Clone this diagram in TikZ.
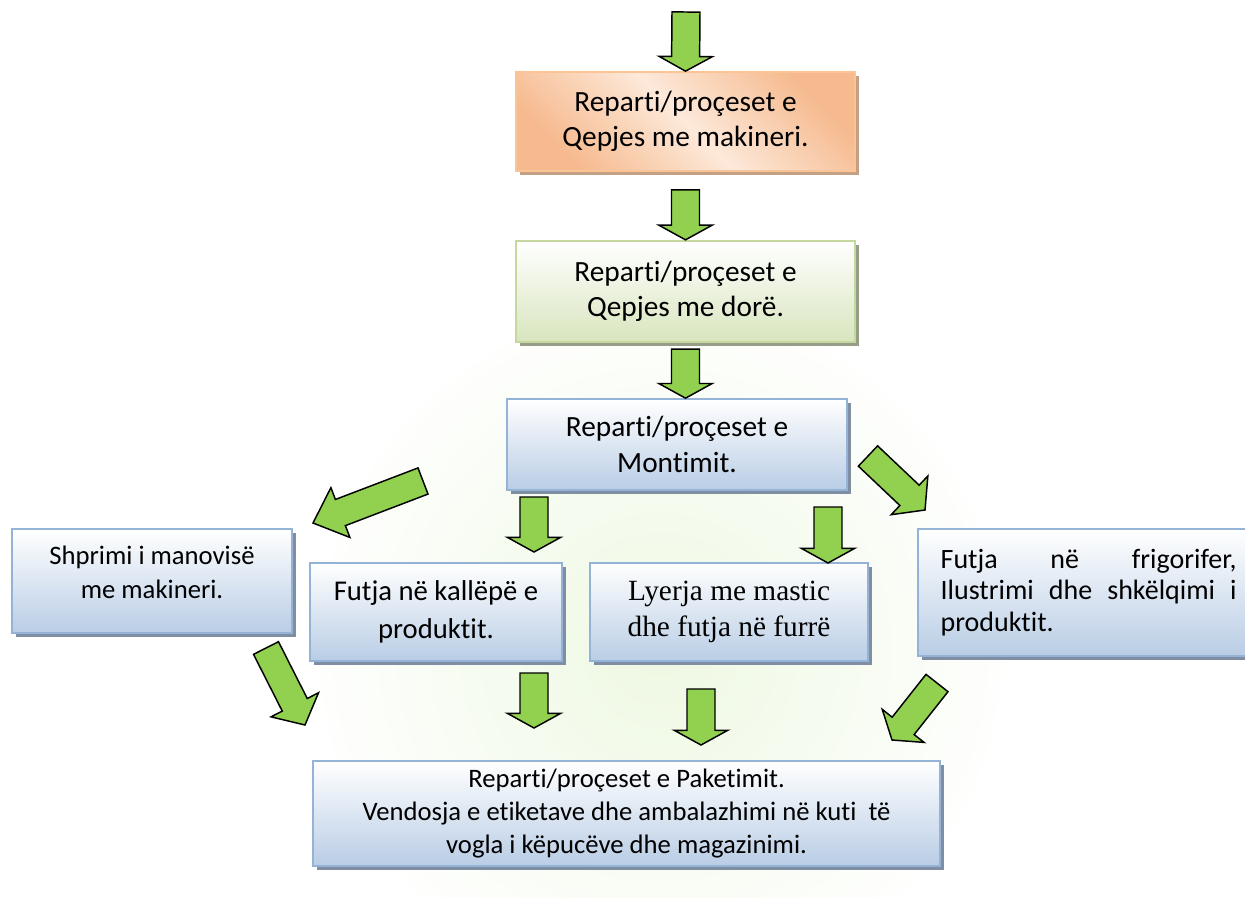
\documentclass[tikz,border=0pt]{standalone}
\usepackage{fontspec}
\setmainfont{Carlito}[Ligatures=NoCommon]
\newfontfamily\timesfont{Liberation Serif}
\usetikzlibrary{calc,shadows}

\definecolor{arrowgreen}{RGB}{146,208,80}
\definecolor{bluebot}{RGB}{185,205,229}
\definecolor{blueline}{RGB}{149,179,215}
\definecolor{blueshadow}{RGB}{128,142,163}
\definecolor{orangedark}{RGB}{246,186,142}
\definecolor{orangelight}{RGB}{253,233,218}
\definecolor{orangeline}{RGB}{250,196,150}
\definecolor{orangeshadow}{RGB}{196,160,132}
\definecolor{greenbot}{RGB}{216,229,190}
\definecolor{greenline}{RGB}{197,216,158}
\definecolor{greenshadow}{RGB}{150,158,138}
\definecolor{watermark}{RGB}{238,248,226}

\tikzset{
  box/.style={rectangle, line width=1.5pt, align=center, inner sep=0pt},
  bluebox/.style={box, draw=blueline, top color=white, bottom color=bluebot,
    drop shadow={shadow xshift=3pt, shadow yshift=-3pt, fill=blueshadow, opacity=1}},
  greenbox/.style={box, draw=greenline, top color=white, bottom color=greenbot,
    drop shadow={shadow xshift=3pt, shadow yshift=-3pt, fill=greenshadow, opacity=1}},
  orangebox/.style={box, draw=orangeline, left color=orangedark, right color=orangedark,
    middle color=orangelight, shading angle=135,
    drop shadow={shadow xshift=3pt, shadow yshift=-3pt, fill=orangeshadow, opacity=1}},
  fatarrow/.style={fill=arrowgreen, draw=black, line width=1.1pt, line join=miter}
}

% block arrow: [head length]{from}{to}
\newcommand{\bigarrow}[3][11pt]{%
  \coordinate (fa-c) at ($(#3)!#1!(#2)$);
  \draw[fatarrow] ($(#2)!10.5pt!90:(#3)$) -- ($(fa-c)!10.5pt!90:(#3)$)
    -- ($(fa-c)!20pt!90:(#3)$) -- (#3) -- ($(fa-c)!20pt!-90:(#3)$)
    -- ($(fa-c)!10.5pt!-90:(#3)$) -- ($(#2)!10.5pt!-90:(#3)$) -- cycle;}

\begin{document}
\begin{tikzpicture}[x=0.75pt, y=-0.75pt]
  \useasboundingbox (0,0) rectangle (1245,897);
  \shade[inner color=watermark, outer color=white] (660,650) circle[radius=270pt];

  % boxes
  \node[orangebox, minimum width=254pt, minimum height=74pt, font=\fontsize{22}{26.5}\selectfont]
    (qmak) at (685.5,121.5) {Reparti/proçeset e\\Qepjes me makineri.};
  \node[greenbox, minimum width=254pt, minimum height=76pt, font=\fontsize{22}{26.5}\selectfont]
    (qdor) at (685.5,291.5) {Reparti/proçeset e\\Qepjes me dorë.};
  \node[bluebox, minimum width=255pt, minimum height=68pt, font=\fontsize{22}{26.5}\selectfont]
    (mont) at (677,444.5) {Reparti/proçeset e\\Montimit.};
  \node[bluebox, minimum width=210pt, minimum height=78pt, text depth=13pt, font=\fontsize{20}{25}\selectfont]
    (shprim) at (152,581) {Shprimi i manovisë\\me makineri.};
  \node[bluebox, minimum width=189pt, minimum height=73pt, font=\fontsize{21.5}{28}\selectfont]
    (kallep) at (436,612) {Futja në kallëpë e\\produktit.};
  \node[bluebox, minimum width=208.5pt, minimum height=73.5pt, font=\timesfont\fontsize{22}{26.5}\selectfont]
    (mastic) at (729,612) {Lyerja me mastic\\dhe futja në furrë};
  \node[bluebox, anchor=west, text width=222pt, align=justify, inner xsep=17pt, minimum height=95pt,
    font=\fontsize{21}{23.5}\selectfont]
    (frigo) at (917,592.5) {Futja në frigorifer,\linebreak Ilustrimi dhe shkëlqimi i\linebreak produktit.};
  \node[bluebox, minimum width=470pt, minimum height=79pt, font=\fontsize{20}{24.5}\selectfont]
    (paket) at (626.5,813.5) {Reparti/proçeset e Paketimit.\\Vendosja e etiketave dhe ambalazhimi në kuti~ të\\vogla i këpucëve dhe magazinimi.};

  % arrows
  \coordinate (in) at (686,12);
  \bigarrow{in}{qmak.north}
  \coordinate (s1) at ($(qmak.south)+(0,18)$);
  \bigarrow{s1}{qdor.north}
  \coordinate (s2) at ($(qdor.south)+(0,6)$);
  \coordinate (t2) at (s2 |- mont.north);
  \bigarrow{s2}{t2}
  \coordinate (m-k1) at (534,497);
  \coordinate (m-k2) at (534,552);
  \bigarrow{m-k1}{m-k2}
  \coordinate (m-l1) at (828,507);
  \coordinate (m-l2) at (828,563);
  \bigarrow{m-l1}{m-l2}
  \coordinate (m-s1) at (423,481);
  \coordinate (m-s2) at (313,523);
  \bigarrow[22pt]{m-s1}{m-s2}
  \coordinate (m-f1) at (868,456);
  \coordinate (m-f2) at (925,510);
  \bigarrow[16pt]{m-f1}{m-f2}
  \coordinate (s-p1) at (266,648);
  \coordinate (s-p2) at (305,725);
  \bigarrow[17pt]{s-p1}{s-p2}
  \coordinate (k-p1) at (534,673);
  \coordinate (k-p2) at (534,728);
  \bigarrow{k-p1}{k-p2}
  \coordinate (l-p1) at (701,689);
  \coordinate (l-p2) at (701,745);
  \bigarrow{l-p1}{l-p2}
  \coordinate (f-p1) at (937,683);
  \coordinate (f-p2) at (892,740);
  \bigarrow[13.5pt]{f-p1}{f-p2}
\end{tikzpicture}
\end{document}
